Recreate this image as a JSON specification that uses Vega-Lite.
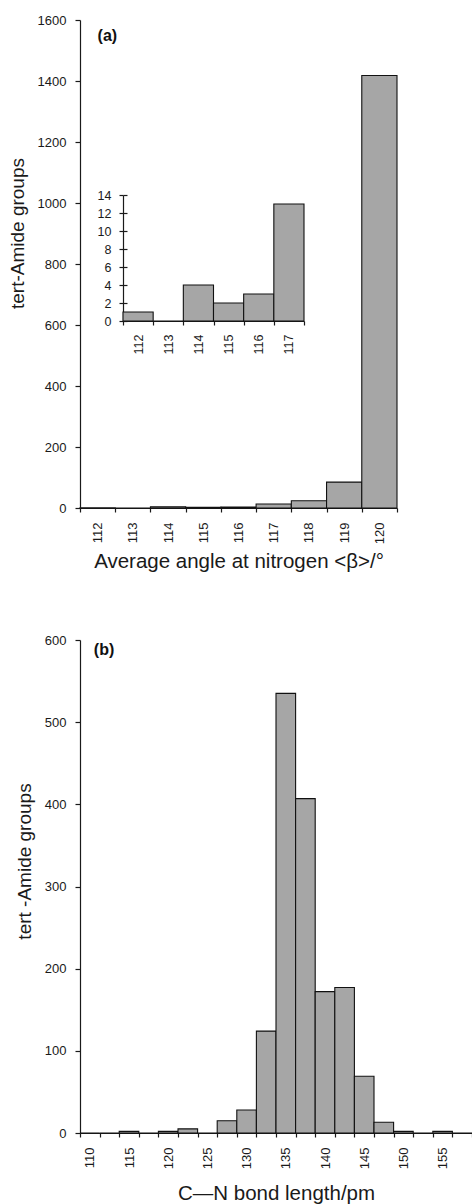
{
  "$schema": "https://vega.github.io/schema/vega-lite/v6.json",
  "background": "white",
  "padding": {"left": 8, "top": 14, "right": 0, "bottom": 0},
  "spacing": 61,
  "config": {
    "font": "Liberation Sans",
    "view": {"stroke": null},
    "axis": {
      "labelFont": "Liberation Sans",
      "labelFontSize": 13,
      "labelColor": "#1a1a1a",
      "titleFont": "Liberation Sans",
      "titleFontWeight": "normal",
      "titleFontSize": 19,
      "titleColor": "#1a1a1a",
      "domainColor": "#1a1a1a",
      "tickColor": "#1a1a1a",
      "domainWidth": 1.2,
      "tickWidth": 1.2,
      "grid": false
    }
  },
  "datasets": {
    "angle": [
      {"angle": 112, "count": 1},
      {"angle": 113, "count": 0},
      {"angle": 114, "count": 4},
      {"angle": 115, "count": 2},
      {"angle": 116, "count": 3},
      {"angle": 117, "count": 13},
      {"angle": 118, "count": 24},
      {"angle": 119, "count": 85},
      {"angle": 120, "count": 1418}
    ],
    "bond": [
      {"len": 110, "count": 0},
      {"len": 112.5, "count": 0},
      {"len": 115, "count": 2},
      {"len": 117.5, "count": 0},
      {"len": 120, "count": 2},
      {"len": 122.5, "count": 5},
      {"len": 125, "count": 0},
      {"len": 127.5, "count": 15},
      {"len": 130, "count": 28},
      {"len": 132.5, "count": 124},
      {"len": 135, "count": 535},
      {"len": 137.5, "count": 407},
      {"len": 140, "count": 172},
      {"len": 142.5, "count": 177},
      {"len": 145, "count": 69},
      {"len": 147.5, "count": 13},
      {"len": 150, "count": 2},
      {"len": 152.5, "count": 0},
      {"len": 155, "count": 2},
      {"len": 157.5, "count": 0}
    ]
  },
  "vconcat": [
    {
      "width": 317,
      "height": 488,
      "layer": [
        {
          "layer": [
            {
              "data": {"name": "angle"},
              "mark": {"type": "bar", "fill": "#a6a6a6", "stroke": "#111111", "strokeWidth": 1.1},
              "encoding": {
                "x": {
                  "field": "angle", "type": "ordinal",
                  "scale": {"paddingInner": 0, "paddingOuter": 0},
                  "axis": {"title": "Average angle at nitrogen <β>/°", "titleFontSize": 20.5, "labelAngle": -90, "tickBand": "extent", "tickSize": 4, "labelPadding": 10, "titlePadding": 8}
                },
                "y": {
                  "field": "count", "type": "quantitative",
                  "scale": {"domain": [0, 1600]},
                  "axis": {"title": "tert-Amide groups", "format": "d", "values": [0, 200, 400, 600, 800, 1000, 1200, 1400, 1600], "tickSize": 5, "labelPadding": 9, "titlePadding": 9.5, "titleY": 213}
                }
              }
            },
            {
              "data": {"values": [{}]},
              "mark": {"type": "text", "text": "(a)", "fontWeight": "bold", "fontSize": 16, "align": "left", "baseline": "middle", "color": "#111111"},
              "encoding": {"x": {"datum": 112, "type": "ordinal"}, "y": {"datum": 1548, "type": "quantitative"}}
            }
          ]
        },
        {
          "data": {"name": "angle"},
          "transform": [{"filter": "datum.angle <= 117"}],
          "mark": {"type": "bar", "fill": "#a6a6a6", "stroke": "#111111", "strokeWidth": 1.1},
          "encoding": {
            "x": {
              "field": "angle", "type": "ordinal",
              "scale": {"range": [43, 224], "paddingInner": 0, "paddingOuter": 0},
              "axis": {"title": null, "orient": "bottom", "offset": -187, "labelAngle": -90, "tickBand": "extent", "tickSize": 4, "labelPadding": 9, "labelFontSize": 12.5}
            },
            "y": {
              "field": "count", "type": "quantitative",
              "scale": {"domain": [0, 14], "range": [301, 175]},
              "axis": {"title": null, "orient": "left", "offset": -43, "values": [0, 2, 4, 6, 8, 10, 12, 14], "tickSize": 4, "labelPadding": 8, "labelFontSize": 12.5}
            }
          }
        },
        {
          "data": {"name": "angle"},
          "transform": [{"filter": "datum.angle <= 117"}],
          "mark": {"type": "bar", "opacity": 0},
          "encoding": {
            "x": {"field": "angle", "type": "ordinal", "scale": {"range": [43, 224], "paddingInner": 0, "paddingOuter": 0}, "axis": null},
            "y": {
              "field": "count", "type": "quantitative",
              "scale": {"domain": [0, 14], "range": [301, 175]},
              "axis": {"title": null, "orient": "right", "offset": -274, "values": [0, 2, 4, 6, 8, 10, 12, 14], "tickSize": 4, "labels": false, "domain": false}
            }
          }
        }
      ],
      "resolve": {
        "scale": {"x": "independent", "y": "independent"},
        "axis": {"x": "independent", "y": "independent"}
      }
    },
    {
      "width": 392,
      "height": 493,
      "layer": [
        {
          "data": {"name": "bond"},
          "mark": {"type": "bar", "fill": "#a6a6a6", "stroke": "#111111", "strokeWidth": 1.1},
          "encoding": {
            "x": {
              "field": "len", "type": "ordinal",
              "scale": {"paddingInner": 0, "paddingOuter": 0},
              "axis": {"title": "C—N bond length/pm", "titleFontSize": 20.5, "labelAngle": -90, "tickBand": "extent", "tickSize": 4, "labelPadding": 10, "titlePadding": 15, "labelExpr": "datum.value % 5 == 0 ? datum.label : ''"}
            },
            "y": {
              "field": "count", "type": "quantitative",
              "scale": {"domain": [0, 600]},
              "axis": {"title": "tert -Amide groups", "format": "d", "values": [0, 100, 200, 300, 400, 500, 600], "tickSize": 5, "labelPadding": 9, "titlePadding": 10, "titleY": 221}
            }
          }
        },
        {
          "data": {"values": [{}]},
          "mark": {"type": "text", "text": "(b)", "fontWeight": "bold", "fontSize": 16, "align": "left", "baseline": "middle", "dx": 4, "color": "#111111"},
          "encoding": {"x": {"datum": 110, "type": "ordinal"}, "y": {"datum": 588, "type": "quantitative"}}
        }
      ]
    }
  ]
}
